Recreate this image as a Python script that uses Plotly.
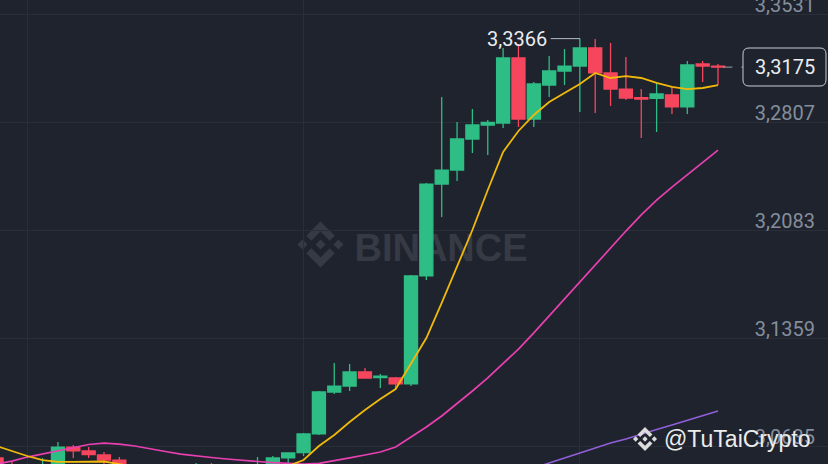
import plotly.graph_objects as go

# candle index (one per bar), OHLC
idx = list(range(48))
open_ = [3.0555, 3.0501, 3.0474, 3.0474, 3.0501, 3.0628, 3.0602, 3.0575, 3.0541, 3.0501,
         3.0447, 3.0474, 3.0447, 3.0461, 3.0494, 3.0474, 3.0461, 3.0474, 3.0494, 3.0555,
         3.0591, 3.0716, 3.0997, 3.1037, 3.1131, 3.1094, 3.1091, 3.1051, 3.1775, 3.2391,
         3.2485, 3.2693, 3.2787, 3.2800, 3.3236, 3.2827, 3.3055, 3.3149, 3.3182, 3.3303,
         3.3136, 3.3028, 3.2970, 3.2965, 3.2988, 3.2908, 3.3196, 3.3182]
high = [3.0555, 3.0528, 3.0501, 3.0555, 3.0662, 3.0642, 3.0628, 3.0595, 3.0561, 3.0507,
        3.0494, 3.0501, 3.0494, 3.0521, 3.0521, 3.0494, 3.0501, 3.0561, 3.0568, 3.0591,
        3.0722, 3.1004, 3.1191, 3.1185, 3.1158, 3.1118, 3.1098, 3.1781, 3.2398, 3.2975,
        3.2807, 3.2894, 3.2820, 3.3303, 3.3330, 3.3075, 3.3250, 3.3296, 3.3366, 3.3363,
        3.3337, 3.3243, 3.3028, 3.3069, 3.3048, 3.3216, 3.3216, 3.3196]
low = [3.0461, 3.0447, 3.0447, 3.0461, 3.0487, 3.0555, 3.0555, 3.0514, 3.0474, 3.0434,
       3.0420, 3.0420, 3.0427, 3.0434, 3.0447, 3.0434, 3.0447, 3.0461, 3.0480, 3.0507,
       3.0568, 3.0709, 3.0984, 3.1004, 3.1091, 3.1024, 3.1017, 3.1037, 3.1748, 3.2170,
       3.2412, 3.2599, 3.2586, 3.2767, 3.2774, 3.2774, 3.2975, 3.3055, 3.2874, 3.2867,
       3.2914, 3.2955, 3.2700, 3.2740, 3.2861, 3.2861, 3.3075, 3.3055]
close = [3.0487, 3.0474, 3.0487, 3.0501, 3.0628, 3.0602, 3.0578, 3.0541, 3.0501, 3.0461,
         3.0474, 3.0447, 3.0474, 3.0487, 3.0474, 3.0461, 3.0487, 3.0501, 3.0555, 3.0588,
         3.0716, 3.0997, 3.1037, 3.1131, 3.1091, 3.1104, 3.1051, 3.1775, 3.2391, 3.2485,
         3.2693, 3.2787, 3.2804, 3.3236, 3.2827, 3.3062, 3.3149, 3.3182, 3.3303, 3.3136,
         3.3028, 3.2968, 3.2961, 3.2995, 3.2908, 3.3189, 3.3182, 3.3175]

# moving averages as drawn
ma7 = [3.0635, 3.0602, 3.0568, 3.0541, 3.0528, 3.0528, 3.0531, 3.0531, 3.0514, 3.0494,
       3.0481, 3.0467, 3.0461, 3.0454, 3.0447, 3.0447, 3.0454, 3.0461, 3.0474, 3.0501,
       3.0541, 3.0635, 3.0709, 3.0796, 3.0876, 3.0950, 3.1017, 3.1185, 3.1359, 3.1594,
       3.1835, 3.2083, 3.2351, 3.2606, 3.2747, 3.2854, 3.2941, 3.3001, 3.3062, 3.3136,
       3.3102, 3.3115, 3.3102, 3.3069, 3.3042, 3.3028, 3.3035, 3.3055]
ma25 = [3.0514, 3.0534, 3.0561, 3.0581, 3.0602, 3.0622, 3.0645, 3.0655, 3.0648, 3.0635,
        3.0615, 3.0598, 3.0581, 3.0568, 3.0558, 3.0548, 3.0538, 3.0531, 3.0524, 3.0518,
        3.0514, 3.0518, 3.0534, 3.0555, 3.0575, 3.0595, 3.0628, 3.0695, 3.0762, 3.0836,
        3.0917, 3.1004, 3.1091, 3.1185, 3.1285, 3.1393, 3.1507, 3.1627, 3.1741, 3.1855,
        3.1969, 3.2076, 3.2184, 3.2284, 3.2371, 3.2452, 3.2539, 3.2619]
ma99 = [None] * 33 + [3.0434, 3.0461, 3.0487, 3.0521, 3.0555, 3.0588, 3.0622, 3.0655,
                      3.0682, 3.0716, 3.0746, 3.0776, 3.0809, 3.0840, 3.0870]

price_ticks = [3.0635, 3.1359, 3.2083, 3.2807, 3.3531]
time_grid = [2, 20, 38]
last_price = 3.3175
high_price = 3.3366

BG = "#1f232d"
GRID = "#2a2e39"
UP = "#2ebd85"
DOWN = "#f6465d"
W, H = 828, 464
X0, X1 = 0.225, 54.165
Y0, Y1 = 3.05144, 3.36249


def paper(xp, yp):
    return xp / W, 1 - yp / H


def poly_path(points):
    pts = [paper(a, b) for a, b in points]
    return "M " + " L ".join(f"{a:.5f},{b:.5f}" for a, b in pts) + " Z"


def logo_shapes(cx, cy, r, color, layer):
    unit = [
        [(0, -1), (0.62, -0.38), (0.40, -0.16), (0, -0.56), (-0.40, -0.16), (-0.62, -0.38)],
        [(0, 1), (0.62, 0.38), (0.40, 0.16), (0, 0.56), (-0.40, 0.16), (-0.62, 0.38)],
        [(-1, 0), (-0.78, -0.22), (-0.56, 0), (-0.78, 0.22)],
        [(1, 0), (0.78, -0.22), (0.56, 0), (0.78, 0.22)],
        [(0, -0.22), (0.22, 0), (0, 0.22), (-0.22, 0)],
    ]
    shapes = []
    for poly in unit:
        pts = [(cx + r * a, cy + r * b) for a, b in poly]
        shapes.append(dict(type="path", xref="paper", yref="paper", path=poly_path(pts),
                           fillcolor=color, line=dict(width=0), layer=layer))
    return shapes


def rounded_box(x0, y0, x1, y1, r):
    def p(a, b):
        u, v = paper(a, b)
        return f"{u:.5f},{v:.5f}"
    return (f"M {p(x0 + r, y0)} L {p(x1 - r, y0)} Q {p(x1, y0)} {p(x1, y0 + r)} "
            f"L {p(x1, y1 - r)} Q {p(x1, y1)} {p(x1 - r, y1)} L {p(x0 + r, y1)} "
            f"Q {p(x0, y1)} {p(x0, y1 - r)} L {p(x0, y0 + r)} Q {p(x0, y0)} {p(x0 + r, y0)} Z")


fig = go.Figure()
fig.add_trace(go.Candlestick(
    x=idx, open=open_, high=high, low=low, close=close,
    increasing=dict(line=dict(color=UP, width=1.3), fillcolor=UP),
    decreasing=dict(line=dict(color=DOWN, width=1.3), fillcolor=DOWN),
    whiskerwidth=0, hoverinfo="skip"))
fig.add_trace(go.Scatter(x=idx, y=ma99, mode="lines", line=dict(color="#8f5fd8", width=1.7),
                         hoverinfo="skip"))
fig.add_trace(go.Scatter(x=idx, y=ma25, mode="lines", line=dict(color="#e840b0", width=1.7),
                         hoverinfo="skip"))
fig.add_trace(go.Scatter(x=idx, y=ma7, mode="lines", line=dict(color="#f0b90b", width=1.8),
                         hoverinfo="skip"))

shapes = []
# watermark
shapes += logo_shapes(320.5, 244.5, 23, "#363a45", "below")
wx0, wy0 = paper(350, 226)
wx1, wy1 = paper(532, 262)
shapes.append(dict(type="rect", xref="paper", yref="paper", x0=wx0, x1=wx1, y0=wy1, y1=wy0,
                   line=dict(width=0), fillcolor="rgba(0,0,0,0)", layer="below",
                   label=dict(text="BINANCE", font=dict(size=38, color="#363a45",
                                                        family="Liberation Sans", weight="bold"),
                              textposition="middle center")))
# high marker line
shapes.append(dict(type="line", xref="x", yref="y", x0=36.1, x1=38, y0=high_price, y1=high_price,
                   line=dict(color="#b7bdc6", width=1)))
# last price dashed line and box
shapes.append(dict(type="line", xref="x", yref="y", x0=47.35, x1=48.63, y0=last_price, y1=last_price,
                   line=dict(color="#9aa0aa", width=1, dash="dash")))
shapes.append(dict(type="path", xref="paper", yref="paper", path=rounded_box(743, 48, 826, 86, 6),
                   fillcolor=BG, line=dict(color="#c9cdd4", width=1)))
# small logo next to the handle
shapes += logo_shapes(645, 439, 12, "#dcdcdc", "above")

bx, by = paper(784.5, 67)
hx, hy = paper(662, 439)
annotations = [
    dict(x=36.0, y=high_price, xref="x", yref="y", text="3,3366", showarrow=False,
         xanchor="right", yanchor="middle", font=dict(size=20, color="#eaecef", family="Roboto")),
    dict(x=bx, y=by, xref="paper", yref="paper", text="3,3175", showarrow=False,
         xanchor="center", yanchor="middle", font=dict(size=20, color="#eaecef", family="Roboto")),
    dict(x=hx, y=hy, xref="paper", yref="paper", text="@TuTaiCrypto", showarrow=False,
         xanchor="left", yanchor="middle", font=dict(size=23, color="#ececec", family="Liberation Sans")),
]

fig.update_layout(
    width=W, height=H, margin=dict(l=0, r=0, t=0, b=0, autoexpand=False),
    paper_bgcolor=BG, plot_bgcolor=BG, separators=",.", showlegend=False,
    boxgap=0.15, boxgroupgap=0,
    shapes=shapes, annotations=annotations,
    xaxis=dict(range=[X0, X1], rangeslider=dict(visible=False), tickvals=time_grid,
               showticklabels=False, gridcolor=GRID, gridwidth=1, zeroline=False,
               showline=False, ticks="", automargin=False),
    yaxis=dict(side="right", range=[Y0, Y1], tickvals=price_ticks, tickformat=".4f",
               ticklabelposition="inside top", ticks="", ticklabelstandoff=10,
               ticklabelshift=5, ticklabeloverflow="allow", automargin=False,
               tickfont=dict(color="#848e9c", size=20, family="Roboto"),
               gridcolor=GRID, gridwidth=1, zeroline=False, showline=False),
)

fig.write_html("out.html", config={"displayModeBar": False},
               post_script="document.body.style.margin='0';document.body.style.background='#1f232d';")
